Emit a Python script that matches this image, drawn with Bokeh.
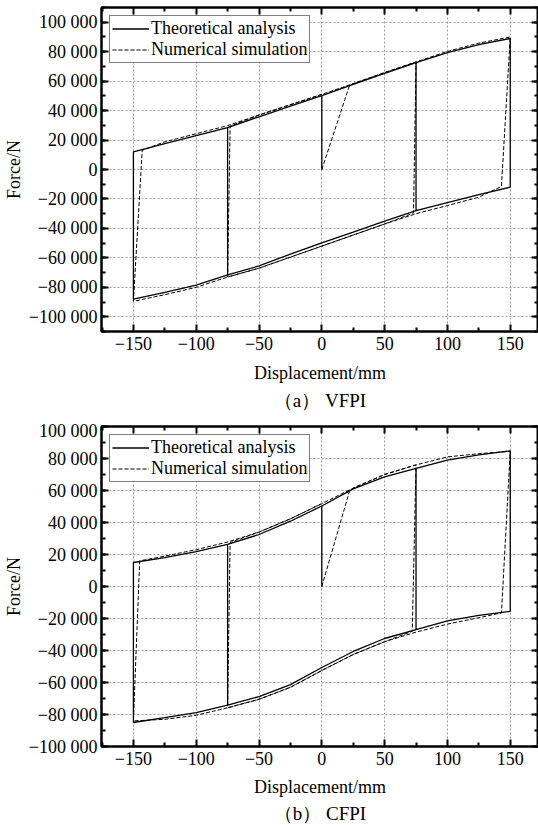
from bokeh.plotting import figure
from bokeh.models import (LinearAxis, FixedTicker, CustomJSTickFormatter, Range1d,
                          Legend, LegendItem)
from bokeh.layouts import column
from bokeh.embed import file_html
from bokeh.resources import INLINE

# ---------------- data ----------------
disp = [-150, -125, -100, -75, -50, -25, 0, 25, 50, 75, 100, 125, 150]
protocol = [150, -150, 75, -75, 0]          # displacement reversal targets

# (a) VFPI
vf_theo_up = [12000, 17500, 23000, 28500, 35800, 43000, 50200, 57800, 65300, 72600, 79400, 84800, 89000]
vf_theo_lo = [-88000, -83500, -78500, -71500, -65500, -57500, -49800, -42500, -35000, -28000, -22500, -17000, -12000]
vf_sim_up = [13500, 18800, 24300, 29800, 37000, 44000, 51000, 58300, 65800, 73000, 80200, 85800, 90000]
vf_sim_lo = [-89500, -85000, -80000, -73000, -67000, -59500, -52000, -44500, -37000, -30000, -24500, -18800, -13000]
vf_sim_join = (22, 57000)
vf_sim_drop_x = [143, -143, 73, -73]
vf_sim_drop_y = [-11500, 13000, -29500, 29500]

# (b) CFPI
cf_theo_up = [15000, 18000, 21800, 26300, 32500, 40800, 50300, 61000, 68500, 73800, 79000, 82300, 84800]
cf_theo_lo = [-85000, -82000, -78800, -74200, -68800, -61300, -50600, -40600, -32500, -26900, -21500, -18000, -15500]
cf_sim_up = [16000, 19000, 23000, 27800, 34000, 42300, 51800, 61500, 70000, 76000, 81000, 83000, 84500]
cf_sim_lo = [-84000, -83000, -80500, -75800, -70500, -63000, -52500, -42500, -34500, -28500, -23500, -19500, -17000]
cf_sim_join = (22, 59500)
cf_sim_drop_x = [143, -145, 72, -73]
cf_sim_drop_y = [-16500, 16000, -28000, 27500]

x_ticks = [-150, -100, -50, 0, 50, 100, 150]
x_minor = [-175, -125, -75, -25, 25, 75, 125, 175]
y_ticks = list(range(-100000, 100001, 20000))
y_minor = list(range(-110000, 110001, 10000))

SERIF = "Liberation Serif"


def between(xg, yg, x0, x1):
    pts = [(x, y) for x, y in zip(xg, yg) if min(x0, x1) < x < max(x0, x1)]
    return pts[::-1] if x1 < x0 else pts


def theory_path(up, lo):
    val = {"up": dict(zip(disp, up)), "lo": dict(zip(disp, lo))}
    arr = {"up": up, "lo": lo}
    pts = [(0, 0), (0, val["up"][0])]
    cur, br = 0, "up"
    for i, t in enumerate(protocol):
        pts += between(disp, arr[br], cur, t) + [(t, val[br][t])]
        if i < len(protocol) - 1:
            br = "lo" if br == "up" else "up"
            pts.append((t, val[br][t]))
        cur = t
    return [p[0] for p in pts], [p[1] for p in pts]


def sim_path(up, lo, join, drop_x, drop_y):
    val = {"up": dict(zip(disp, up)), "lo": dict(zip(disp, lo))}
    arr = {"up": up, "lo": lo}
    pts = [(0, 0), join]
    cur, br = join[0], "up"
    for i, t in enumerate(protocol):
        pts += between(disp, arr[br], cur, t) + [(t, val[br][t])]
        if i < len(drop_x):
            br = "lo" if br == "up" else "up"
            pts.append((drop_x[i], drop_y[i]))
            cur = drop_x[i]
    return [p[0] for p in pts], [p[1] for p in pts]


fmt_code = """
const a = Math.abs(tick).toFixed(0).replace(/\\B(?=(\\d{3})+(?!\\d))/g, " ");
return (tick < 0 ? "\\u2212" : "") + a;
"""


def style_axis(ax, major, minor, show_labels):
    ax.ticker = FixedTicker(ticks=major, minor_ticks=minor)
    ax.formatter = CustomJSTickFormatter(code=fmt_code if show_labels else "return '';")
    ax.axis_line_color = "black"
    ax.axis_line_width = 2
    ax.major_tick_line_color = "black"
    ax.major_tick_line_width = 2
    ax.minor_tick_line_color = "black"
    ax.minor_tick_line_width = 2
    ax.major_tick_in = 7
    ax.major_tick_out = 0
    ax.minor_tick_in = 4
    ax.minor_tick_out = 0
    ax.major_label_text_font = SERIF
    ax.major_label_text_font_size = "18px" if show_labels else "0px"
    ax.major_label_text_color = "black"
    ax.major_label_standoff = 4 if show_labels else 0
    ax.axis_label_text_font = SERIF
    ax.axis_label_text_font_size = "18px"
    ax.axis_label_text_font_style = "normal"
    ax.axis_label_text_color = "black"
    if not show_labels:
        ax.axis_label_standoff = 0


def make_chart(caption, ylo, yhi, theo, sim, height, b_top, b_bottom,
               lab_off, axlab_off, title_off):
    p = figure(width=538, height=height, output_backend="svg", toolbar_location=None,
               x_range=Range1d(-175.4, 172.5), y_range=Range1d(ylo, yhi),
               title=caption, title_location="below",
               min_border_left=99, min_border_right=0, min_border_top=b_top,
               min_border_bottom=b_bottom,
               x_axis_label="Displacement/mm", y_axis_label="Force/N")
    p.outline_line_color = "black"
    p.outline_line_width = 2
    p.background_fill_color = "white"
    p.border_fill_color = "white"

    style_axis(p.xaxis[0], x_ticks, x_minor, True)
    style_axis(p.yaxis[0], y_ticks, y_minor, True)
    p.xaxis[0].major_label_standoff = lab_off
    p.xaxis[0].axis_label_standoff = axlab_off
    p.yaxis[0].axis_label_standoff = 2

    top = LinearAxis()
    style_axis(top, x_ticks, x_minor, False)
    p.add_layout(top, "above")
    right = LinearAxis()
    style_axis(right, y_ticks, y_minor, False)
    p.add_layout(right, "right")

    for g in (p.xgrid[0], p.ygrid[0]):
        g.grid_line_color = "#9a9a9a"
        g.grid_line_dash = "2 2"
        g.grid_line_width = 1
    p.xgrid[0].ticker = FixedTicker(ticks=x_ticks)
    p.ygrid[0].ticker = FixedTicker(ticks=y_ticks)

    r1 = p.line(theo[0], theo[1], line_color="black", line_width=1.3)
    r2 = p.line(sim[0], sim[1], line_color="black", line_width=1, line_dash="4 2")

    leg = Legend(items=[LegendItem(label="Theoretical analysis", renderers=[r1]),
                        LegendItem(label="Numerical simulation", renderers=[r2])],
                 location="top_left")
    leg.label_text_font = SERIF
    leg.label_text_font_size = "18px"
    leg.label_text_color = "black"
    leg.glyph_width = 37
    leg.glyph_height = 17
    leg.label_standoff = 2
    leg.label_height = 17
    leg.padding = 2
    leg.spacing = 0
    leg.margin = 8
    leg.border_line_color = "black"
    leg.border_line_width = 1.5
    leg.background_fill_alpha = 1
    p.add_layout(leg)

    p.title.text_font = SERIF
    p.title.text_font_size = "19px"
    p.title.text_font_style = "normal"
    p.title.align = "center"
    p.title.text_color = "black"
    p.title.standoff = title_off
    return p


vf_theo = theory_path(vf_theo_up, vf_theo_lo)
vf_sim = sim_path(vf_sim_up, vf_sim_lo, vf_sim_join, vf_sim_drop_x, vf_sim_drop_y)
cf_theo = theory_path(cf_theo_up, cf_theo_lo)
cf_sim = sim_path(cf_sim_up, cf_sim_lo, cf_sim_join, cf_sim_drop_x, cf_sim_drop_y)

p1 = make_chart("（a） VFPI", -110000, 110000, vf_theo, vf_sim, 420, 7, 89, 5, 10, 5)
p2 = make_chart("（b） CFPI", -100000, 100000, cf_theo, cf_sim, 404, 6, 77, 5, 9, 2)

layout = column(p1, p2, spacing=0)
open("out.html", "w").write(file_html(layout, INLINE))
